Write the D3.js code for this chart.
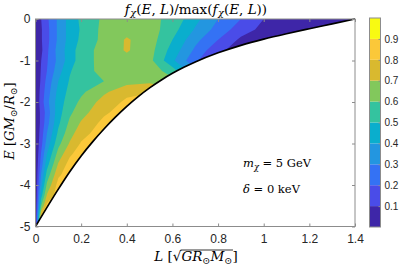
<!DOCTYPE html>
<html>
<head>
<meta charset="utf-8">
<script src="https://cdn.jsdelivr.net/npm/d3@7"></script>
<style>
body { margin: 0; background: #fff; }
svg { display: block; }
</style>
</head>
<body>
<svg id="chart" width="399" height="266"></svg>
<script>
// grid nodes (angular momentum L, energy E)
const Lnodes = [0, 0.025, 0.05, 0.1, 0.15, 0.2, 0.3, 0.4, 0.5, 0.6, 0.7, 0.8, 0.9, 1.0, 1.1, 1.2, 1.3, 1.4];
const Enodes = [0, -0.25, -0.5, -0.75, -1, -1.25, -1.5, -1.75, -2, -2.25, -2.5, -2.75, -3, -3.25, -3.5, -3.75, -4, -4.25, -4.5, -4.75, -5];

// f(E,L)/max, one row per E node (top to bottom)
const fRows = [
  [0, 0.10, 0.18, 0.32, 0.44, 0.52, 0.62, 0.66, 0.63, 0.57, 0.43, 0.30, 0.20, 0.10, 0.07, 0.05, 0.03, 0.02],
  [0, 0.09, 0.17, 0.32, 0.44, 0.51, 0.63, 0.67, 0.65, 0.54, 0.39, 0.26, 0.15, 0.07, 0.05, 0.04, 0.04, 0.04],
  [0, 0.09, 0.17, 0.32, 0.44, 0.52, 0.63, 0.71, 0.65, 0.50, 0.33, 0.20, 0.08, 0.06, 0.05, 0.04, 0.04, 0.04],
  [0, 0.08, 0.18, 0.34, 0.45, 0.55, 0.64, 0.71, 0.64, 0.46, 0.28, 0.12, 0.06, 0.05, 0.05, 0.04, 0.04, 0.04],
  [0, 0.10, 0.19, 0.33, 0.45, 0.55, 0.64, 0.67, 0.63, 0.42, 0.22, 0.08, 0.05, 0.05, 0.05, 0.04, 0.04, 0.04],
  [0, 0.11, 0.20, 0.36, 0.49, 0.56, 0.63, 0.66, 0.66, 0.55, 0.32, 0.15, 0.05, 0.05, 0.05, 0.04, 0.04, 0.04],
  [0, 0.12, 0.23, 0.40, 0.51, 0.54, 0.60, 0.66, 0.68, 0.63, 0.45, 0.30, 0.20, 0.10, 0.05, 0.04, 0.04, 0.04],
  [0, 0.14, 0.25, 0.43, 0.53, 0.58, 0.68, 0.77, 0.79, 0.74, 0.60, 0.50, 0.40, 0.30, 0.20, 0.10, 0.05, 0.04],
  [0, 0.15, 0.27, 0.45, 0.55, 0.62, 0.74, 0.82, 0.86, 0.86, 0.86, 0.86, 0.86, 0.86, 0.86, 0.86, 0.86, 0.86],
  [0, 0.13, 0.24, 0.46, 0.58, 0.66, 0.78, 0.86, 0.86, 0.86, 0.86, 0.86, 0.86, 0.86, 0.86, 0.86, 0.86, 0.86],
  [0, 0.13, 0.26, 0.48, 0.62, 0.71, 0.83, 0.86, 0.86, 0.86, 0.86, 0.86, 0.86, 0.86, 0.86, 0.86, 0.86, 0.86],
  [0, 0.15, 0.30, 0.52, 0.66, 0.76, 0.86, 0.86, 0.86, 0.86, 0.86, 0.86, 0.86, 0.86, 0.86, 0.86, 0.86, 0.86],
  [0, 0.17, 0.34, 0.57, 0.71, 0.81, 0.86, 0.86, 0.86, 0.86, 0.86, 0.86, 0.86, 0.86, 0.86, 0.86, 0.86, 0.86],
  [0, 0.21, 0.40, 0.64, 0.78, 0.86, 0.86, 0.86, 0.86, 0.86, 0.86, 0.86, 0.86, 0.86, 0.86, 0.86, 0.86, 0.86],
  [0, 0.25, 0.46, 0.71, 0.84, 0.86, 0.86, 0.86, 0.86, 0.86, 0.86, 0.86, 0.86, 0.86, 0.86, 0.86, 0.86, 0.86],
  [0, 0.31, 0.54, 0.78, 0.86, 0.86, 0.86, 0.86, 0.86, 0.86, 0.86, 0.86, 0.86, 0.86, 0.86, 0.86, 0.86, 0.86],
  [0, 0.37, 0.62, 0.84, 0.86, 0.86, 0.86, 0.86, 0.86, 0.86, 0.86, 0.86, 0.86, 0.86, 0.86, 0.86, 0.86, 0.86],
  [0, 0.46, 0.71, 0.86, 0.86, 0.86, 0.86, 0.86, 0.86, 0.86, 0.86, 0.86, 0.86, 0.86, 0.86, 0.86, 0.86, 0.86],
  [0, 0.60, 0.83, 0.86, 0.86, 0.86, 0.86, 0.86, 0.86, 0.86, 0.86, 0.86, 0.86, 0.86, 0.86, 0.86, 0.86, 0.86],
  [0, 0.82, 0.86, 0.86, 0.86, 0.86, 0.86, 0.86, 0.86, 0.86, 0.86, 0.86, 0.86, 0.86, 0.86, 0.86, 0.86, 0.86],
  [0, 0.86, 0.86, 0.86, 0.86, 0.86, 0.86, 0.86, 0.86, 0.86, 0.86, 0.86, 0.86, 0.86, 0.86, 0.86, 0.86, 0.86]
];

// lower edge of the allowed region (circular orbits)
const edgeL = [0, 0.1, 0.15, 0.2, 0.25, 0.3, 0.35, 0.4, 0.45, 0.5, 0.55, 0.6, 0.65, 0.7, 0.8, 0.9, 1.0, 1.1, 1.2, 1.3, 1.4];
const edgeE = [-5, -4.1, -3.68, -3.3, -2.96, -2.65, -2.365, -2.105, -1.87, -1.66, -1.475, -1.31, -1.165, -1.035, -0.815, -0.635, -0.485, -0.355, -0.235, -0.118, 0];

const levels = [0, 0.1, 0.2, 0.3, 0.4, 0.5, 0.6, 0.7, 0.8, 0.9];
const levelColors = ["#3e26a8", "#4a4ce8", "#3472f4", "#2396e0", "#0aaecd", "#34c39f", "#82c85c", "#d9b92f", "#fbc839", "#f8fa12"];
const xTicks = [0, 0.2, 0.4, 0.6, 0.8, 1, 1.2, 1.4];
const yTicks = [0, -1, -2, -3, -4, -5];
const cbTicks = [0.1, 0.2, 0.3, 0.4, 0.5, 0.6, 0.7, 0.8, 0.9];

const svg = d3.select("#chart");
const x = d3.scaleLinear().domain([0, 1.4]).range([35.5, 355]);
const y = d3.scaleLinear().domain([-5, 0]).range([226.5, 19]);

// grid index -> data coordinates (non uniform node spacing)
const ix = d3.scaleLinear().domain(d3.range(Lnodes.length)).range(Lnodes);
const iy = d3.scaleLinear().domain(d3.range(Enodes.length)).range(Enodes);
const proj = d3.geoTransform({
  point: function (px, py) {
    this.stream.point(x(ix(px - 0.5)), y(iy(py - 0.5)));
  }
});
const gridPath = d3.geoPath(proj);

const contours = d3.contours()
  .size([Lnodes.length, Enodes.length])
  .thresholds(levels)(fRows.flat());

// clip to region above the edge curve
const edge = edgeL.map((l, i) => [l, edgeE[i]]);
const clipArea = d3.area()
  .x(d => x(d[0])).y0(y(0)).y1(d => y(d[1]))
  .curve(d3.curveMonotoneX);
svg.append("clipPath").attr("id", "allowed")
  .append("path").attr("d", clipArea(edge));

svg.append("g").attr("clip-path", "url(#allowed)")
  .selectAll("path")
  .data(contours)
  .enter().append("path")
  .attr("d", gridPath)
  .attr("fill", (d, i) => levelColors[i])
  .attr("stroke", "none");

svg.append("path")
  .attr("d", d3.line().x(d => x(d[0])).y(d => y(d[1])).curve(d3.curveMonotoneX)(edge))
  .attr("fill", "none").attr("stroke", "#000").attr("stroke-width", 1.7);

// axes
const axisColor = "#8c8c8c";
const labelColor = "#262626";
function styleAxis(g, showLabels) {
  g.select(".domain").remove();
  g.selectAll(".tick line").attr("stroke", axisColor);
  g.selectAll(".tick text").attr("fill", labelColor)
    .attr("font-family", "Liberation Sans, Arial, sans-serif").attr("font-size", 12);
  if (!showLabels) g.selectAll(".tick text").remove();
}
svg.append("g").attr("transform", "translate(0,226.5)")
  .call(d3.axisBottom(x).tickValues(xTicks).tickFormat(d => String(d)).tickSizeInner(-3).tickSizeOuter(0).tickPadding(8))
  .call(g => styleAxis(g, true));
svg.append("g").attr("transform", "translate(0,19)")
  .call(d3.axisTop(x).tickValues(xTicks).tickSizeInner(-3).tickSizeOuter(0))
  .call(g => styleAxis(g, false));
svg.append("g").attr("transform", "translate(35.5,0)")
  .call(d3.axisLeft(y).tickValues(yTicks).tickFormat(d => String(d)).tickSizeInner(-3).tickSizeOuter(0).tickPadding(5))
  .call(g => styleAxis(g, true));
svg.append("g").attr("transform", "translate(355,0)")
  .call(d3.axisRight(y).tickValues(yTicks).tickSizeInner(-3).tickSizeOuter(0))
  .call(g => styleAxis(g, false));
svg.append("rect").attr("x", 35.5).attr("y", 19).attr("width", 355 - 35.5).attr("height", 226.5 - 19)
  .attr("fill", "none").attr("stroke", axisColor).attr("stroke-width", 1);

// colorbar
const cb = d3.scaleLinear().domain([0, 1]).range([227, 18]);
const cbX = 369.5, cbW = 11;
const cbBands = levels.map((v, i) => ({ lo: v, hi: i < levels.length - 1 ? levels[i + 1] : 1, c: levelColors[i] }));
svg.append("g").selectAll("rect").data(cbBands).enter().append("rect")
  .attr("x", cbX).attr("width", cbW)
  .attr("y", d => cb(d.hi)).attr("height", d => cb(d.lo) - cb(d.hi))
  .attr("fill", d => d.c);
svg.append("g").attr("transform", `translate(${cbX + cbW},0)`)
  .call(d3.axisRight(cb).tickValues(cbTicks).tickFormat(d3.format(".1f")).tickSizeInner(-2).tickSizeOuter(0).tickPadding(4))
  .call(g => styleAxis(g, true))
  .call(g => g.selectAll(".tick text").attr("font-size", 10));
svg.append("rect").attr("x", cbX).attr("y", 18).attr("width", cbW).attr("height", 209)
  .attr("fill", "none").attr("stroke", axisColor).attr("stroke-width", 1);

// math-like text built from pieces
const serif = "DejaVu Serif, Liberation Serif, serif";
function richText(parts, size) {
  const g = svg.append("g");
  let cx = 0;
  const spans = [];
  parts.forEach(p => {
    const fs = p.sub ? size * 0.72 : size;
    const t = g.append("text")
      .attr("x", cx).attr("y", p.sub ? size * 0.22 : 0)
      .attr("xml:space", "preserve")
      .style("white-space", "pre")
      .attr("font-family", serif)
      .attr("font-style", p.it ? "italic" : "normal")
      .attr("font-size", fs)
      .attr("fill", "#000")
      .text(p.t);
    const w = t.node().getComputedTextLength();
    spans.push([cx, cx + w]);
    cx += w + (p.gap || 0);
  });
  return { g, width: cx, spans };
}

const title = richText([
  { t: "f", it: true, gap: 0.5 }, { t: "χ", it: true, sub: true }, { t: "(" }, { t: "E", it: true },
  { t: ", " }, { t: "L", it: true }, { t: ")/max(" }, { t: "f", it: true, gap: 0.5 },
  { t: "χ", it: true, sub: true }, { t: "(" }, { t: "E", it: true }, { t: ", " }, { t: "L", it: true }, { t: "))" }
], 13.5);
title.g.attr("transform", `translate(${196 - title.width / 2},13.5)`);

const ylab = richText([
  { t: "E", it: true }, { t: " [" }, { t: "GM", it: true }, { t: "⊙", sub: true },
  { t: "/" }, { t: "R", it: true }, { t: "⊙", sub: true }, { t: "]" }
], 13);
ylab.g.attr("transform", `translate(14,121) rotate(-90) translate(${-ylab.width / 2},0)`);

const xlab = richText([
  { t: "L", it: true }, { t: " [" }, { t: "√" }, { t: "GR", it: true }, { t: "⊙", sub: true },
  { t: "M", it: true }, { t: "⊙", sub: true }, { t: "]" }
], 13.5);
xlab.g.attr("transform", `translate(${196 - xlab.width / 2},261)`);
xlab.g.append("line")
  .attr("x1", xlab.spans[2][1] - 0.8).attr("x2", xlab.spans[6][1] + 0.5)
  .attr("y1", -11).attr("y2", -11)
  .attr("stroke", "#000").attr("stroke-width", 0.8);

const note1 = richText([
  { t: "m", it: true }, { t: "χ", it: true, sub: true }, { t: " = 5 GeV" }
], 11.5);
note1.g.attr("transform", "translate(243,167)");
const note2 = richText([
  { t: "δ", it: true }, { t: " = 0 keV" }
], 11.5);
note2.g.attr("transform", "translate(243,193)");
</script>
</body>
</html>
